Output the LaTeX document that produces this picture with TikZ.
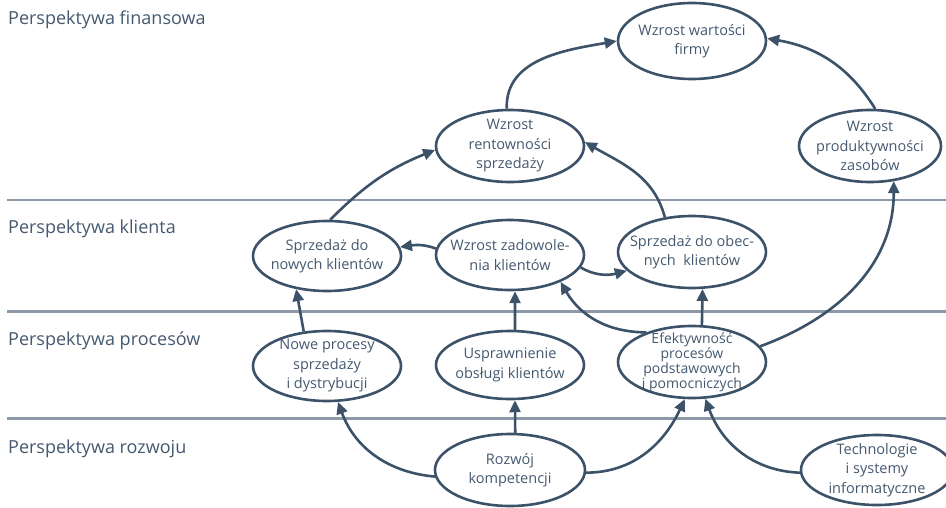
\documentclass[tikz,border=0pt]{standalone}
\usepackage{fontspec}
\setmainfont{Open Sans}
\usetikzlibrary{shapes.geometric,arrows.meta}
\definecolor{ink}{HTML}{3C5269}
\definecolor{txt}{HTML}{44596F}
\definecolor{rulec}{HTML}{8D98A8}
\begin{document}
\begin{tikzpicture}[x=1pt,y=-1pt,
  el/.style={ellipse,draw=ink,line width=2.6pt,inner sep=-12pt,align=center,text=txt,
    font=\fontsize{14.5}{19.5}\selectfont},
  conn/.style={draw=ink,line width=2.6pt},
  arr/.style={conn,-{Triangle[length=12pt,width=11pt]}},
  persp/.style={anchor=base west,text=txt,font=\fontsize{18}{20}\selectfont,inner sep=0pt},
  sepline/.style={draw=rulec,line width=2.6pt}]
\useasboundingbox (0,0) rectangle (946,507);
\clip (0,0) rectangle (946,507);
% separators
\coordinate (s1a) at (7,200);   \coordinate (s1b) at (946,200);
\coordinate (s2a) at (7,311.5); \coordinate (s2b) at (946,311.5);
\coordinate (s3a) at (7,418.5); \coordinate (s3b) at (946,418.5);
\draw[sepline] (s1a) -- (s1b);
\draw[sepline] (s2a) -- (s2b);
\draw[sepline] (s3a) -- (s3b);
% perspective labels
\node[persp] (p1) at (8,24)  {Perspektywa finansowa};
\node[persp] (p2) at (8,233) {Perspektywa klienta};
\node[persp] (p3) at (8,345) {Perspektywa procesów};
\node[persp] (p4) at (8,453) {Perspektywa rozwoju};
% nodes
\node[el,minimum width=148pt,minimum height=76pt] (wart) at (692,41) {Wzrost wartości\\firmy};
\node[el,minimum width=148pt,minimum height=72pt] (rent) at (510,146) {Wzrost\\rentowności\\sprzedaży};
\node[el,minimum width=142pt,minimum height=72pt] (prod) at (870,146) {Wzrost\\produktywności\\zasobów};
\node[el,minimum width=148pt,minimum height=70pt] (nowi) at (327,256) {Sprzedaż do\\nowych klientów};
\node[el,minimum width=148pt,minimum height=70pt] (zad)  at (510,255) {Wzrost zadowole-\\nia klientów};
\node[el,minimum width=148pt,minimum height=72pt] (obec) at (692,252) {Sprzedaż do obec-\\nych~~klientów};
\node[el,minimum width=148pt,minimum height=70pt] (npro) at (327,366) {Nowe procesy\\sprzedaży\\i dystrybucji};
\node[el,minimum width=148pt,minimum height=68pt] (uspr) at (510,365) {Usprawnienie\\obsługi klientów};
\node[el,minimum width=148pt,minimum height=72pt,font=\fontsize{14}{12.5}\selectfont] (efek) at (692,362) {Efektywność\\procesów\\podstawowych\\i pomocniczych};
\node[el,minimum width=150pt,minimum height=72pt] (rozw) at (510,470) {Rozwój\\kompetencji};
\node[el,minimum width=152pt,minimum height=70pt] (tech) at (877,470) {Technologie\\i systemy\\informatyczne};
% connectors
\draw[arr] (rent.95) to[out=92,in=190] (wart.180);
\draw[arr] (prod.82) to[out=122,in=-10] (wart.2);
\draw[arr] (nowi.85) to[out=45,in=202] (rent.183);
\draw[arr] (obec.128) to[out=105,in=-30] (rent.3);
\draw[arr] (zad.175) to[out=160,in=8] (nowi.7);
\draw[arr] (zad.-10) to[out=-30,in=195] (obec.196);
\draw[arr] (npro.124) -- (nowi.227);
\draw[arr] (uspr.82) -- (zad.278);
\draw[arr] (rozw.82) -- (uspr.278);
\draw[arr] (rozw.185) to[out=175,in=-70] (npro.287);
\draw[arr] (efek.75) -- (obec.286);
\draw[arr] (efek.147) to[out=180,in=-60] (zad.332);
\draw[arr] (rozw.-2) to[out=0,in=-115] (efek.259);
\draw[arr] (tech.182) to[out=178,in=-70] (efek.290);
\draw[arr] (efek.13) to[out=20,in=-90] (prod.304);
\end{tikzpicture}
\end{document}
